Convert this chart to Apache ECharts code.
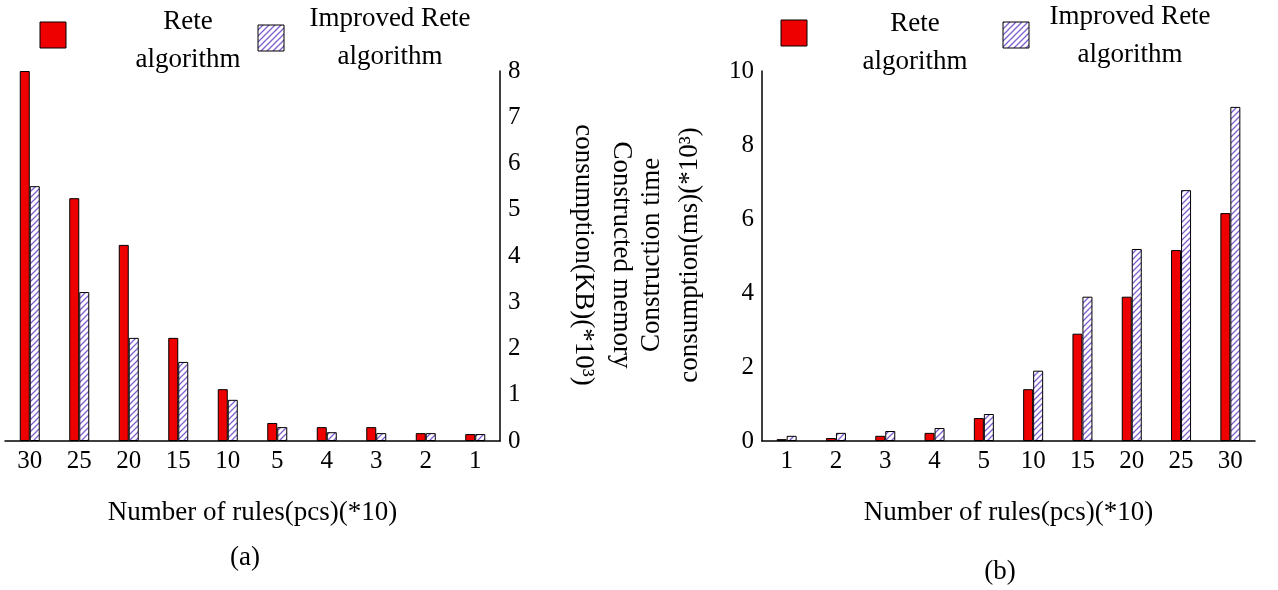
<!DOCTYPE html>
<html>
<head>
<meta charset="utf-8">
<script src="https://cdn.jsdelivr.net/npm/echarts@6/dist/echarts.min.js"></script>
<style>html,body{margin:0;padding:0;background:#fff}#main{width:1278px;height:590px}</style>
</head>
<body>
<div id="main"></div>
<script>
// chart (a) memory
var catsA = ['30', '25', '20', '15', '10', '5', '4', '3', '2', '1'];
var reteA = [8.0, 5.25, 4.24, 2.23, 1.12, 0.39, 0.30, 0.30, 0.17, 0.15];
var improvedA = [5.51, 3.22, 2.23, 1.71, 0.89, 0.30, 0.19, 0.17, 0.17, 0.15];
// chart (b) time
var catsB = ['1', '2', '3', '4', '5', '10', '15', '20', '25', '30'];
var reteB = [0.05, 0.08, 0.14, 0.22, 0.62, 1.4, 2.9, 3.9, 5.16, 6.16];
var improvedB = [0.14, 0.22, 0.27, 0.35, 0.73, 1.9, 3.9, 5.19, 6.78, 9.03];

var FONT = 'Liberation Serif';

function hatch() {
  var c = document.createElement('canvas');
  c.width = 6; c.height = 6;
  var g = c.getContext('2d');
  g.fillStyle = '#fff';
  g.fillRect(0, 0, 6, 6);
  g.strokeStyle = '#7f5fd0';
  g.lineWidth = 1.3;
  g.beginPath();
  g.moveTo(-1, 7); g.lineTo(7, -1);
  g.moveTo(-1, 1); g.lineTo(1, -1);
  g.moveTo(5, 7); g.lineTo(7, 5);
  g.stroke();
  return { image: c, repeat: 'repeat' };
}
var pat = hatch();

var chartDom = document.getElementById('main');
var myChart = echarts.init(chartDom);

var axisCommon = {
  axisLine: { show: true, lineStyle: { color: '#000', width: 1.5 } },
  axisTick: { inside: true, lineStyle: { color: '#000' }, length: 6 },
  splitLine: { show: false },
  axisLabel: { color: '#000', fontFamily: FONT, fontSize: 25 }
};
var nameStyle = { color: '#000', fontFamily: FONT, fontSize: 27 };

function bars(name, data, x, isHatch) {
  return {
    name: name, type: 'bar', xAxisIndex: x, yAxisIndex: x, data: data,
    barWidth: 10, barGap: '0%',
    itemStyle: { color: isHatch ? pat : '#ee0000', borderColor: '#000', borderWidth: 1 }
  };
}

function legendBox(x, y, fill) {
  return { type: 'rect', shape: { x: x, y: y, width: 26, height: 26 }, style: { fill: fill, stroke: '#000', lineWidth: 1 } };
}
function txt(x, y, s, rot) {
  return {
    type: 'text', x: x, y: y, rotation: rot || 0,
    style: { text: s, fontFamily: FONT, fontSize: 27, fill: '#000', align: 'center', verticalAlign: 'middle', lineHeight: 38 }
  };
}

var option = {
  animation: false,
  grid: [
    { left: 5, right: 778, top: 71, bottom: 149 },
    { left: 762, right: 23, top: 71, bottom: 149 }
  ],
  xAxis: [
    Object.assign({}, axisCommon, {
      type: 'category', gridIndex: 0, data: catsA,
      axisTick: { show: false },
      axisLabel: { color: '#000', fontFamily: FONT, fontSize: 25, margin: 8 },
      name: 'Number of rules(pcs)(*10)', nameLocation: 'middle', nameGap: 58,
      nameTextStyle: nameStyle
    }),
    Object.assign({}, axisCommon, {
      type: 'category', gridIndex: 1, data: catsB,
      axisTick: { inside: true, length: 6, lineStyle: { color: '#000' } },
      axisLabel: { color: '#000', fontFamily: FONT, fontSize: 25, margin: 8 },
      name: 'Number of rules(pcs)(*10)', nameLocation: 'middle', nameGap: 58,
      nameTextStyle: nameStyle
    })
  ],
  yAxis: [
    Object.assign({}, axisCommon, {
      type: 'value', gridIndex: 0, position: 'right', min: 0, max: 8, interval: 1,
      axisLabel: { color: '#000', fontFamily: FONT, fontSize: 25, margin: 8 }
    }),
    Object.assign({}, axisCommon, {
      type: 'value', gridIndex: 1, min: 0, max: 10, interval: 2,
      axisLabel: { color: '#000', fontFamily: FONT, fontSize: 25, margin: 8 }
    })
  ],
  series: [
    bars('Rete algorithm', reteA, 0, false),
    bars('Improved Rete algorithm', improvedA, 0, true),
    bars('Rete algorithm', reteB, 1, false),
    bars('Improved Rete algorithm', improvedB, 1, true)
  ],
  graphic: [
    legendBox(40, 22, '#ee0000'),
    txt(188, 41, 'Rete\nalgorithm'),
    legendBox(258, 25, pat),
    txt(390, 38, 'Improved Rete\nalgorithm'),
    legendBox(781, 20, '#ee0000'),
    txt(915, 43, 'Rete\nalgorithm'),
    legendBox(1003, 22, pat),
    txt(1130, 36, 'Improved Rete\nalgorithm'),
    txt(602, 255, 'Constructed memory\nconsumption(KB)(*10³)', -Math.PI / 2),
    txt(671, 255, 'Construction time\nconsumption(ms)(*10³)', Math.PI / 2),
    txt(245, 558, '(a)'),
    txt(1000, 572, '(b)')
  ]
};

option && myChart.setOption(option);
</script>
</body>
</html>
